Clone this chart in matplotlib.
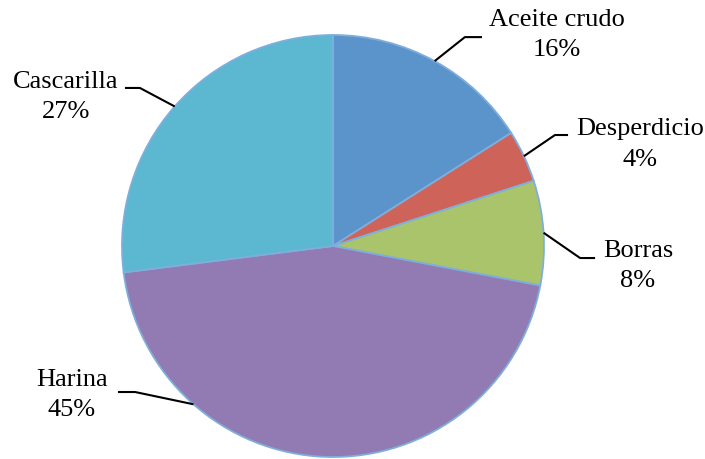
import matplotlib
matplotlib.use("Agg")
import matplotlib.pyplot as plt
import numpy as np

plt.rcParams['font.family'] = ['Liberation Serif', 'DejaVu Serif']

categories = ["Aceite crudo", "Desperdicio", "Borras", "Harina", "Cascarilla"]
values = [16, 4, 8, 45, 27]
pct_labels = ["16%", "4%", "8%", "45%", "27%"]
colors = ["#5B93CB", "#CE6459", "#AAC46C", "#917BB2", "#5BB8D0"]

# label layout (data units, pie radius = 1)
text_pos = [(1.062, 1.00), (1.455, 0.48), (1.445, -0.095), (-1.237, -0.706), (-1.265, 0.706)]
elbows = [(0.625, 0.99), (1.052, 0.526), (1.171, -0.057), (-0.938, -0.692), (-0.915, 0.749)]
ends = [(0.706, 0.99), (1.114, 0.526), (1.242, -0.057), (-1.019, -0.692), (-0.986, 0.749)]
anchor_angle_override = {3: 228.6}

fig = plt.figure(figsize=(7.05, 4.59), dpi=100)
ax = fig.add_axes([0, 0, 1, 1])
wedges, _ = ax.pie(values, colors=colors, startangle=90, counterclock=False, radius=1,
                   wedgeprops=dict(edgecolor="#7FAEDC", linewidth=1.3))
ax.set_xlim(-333/211, 372/211)
ax.set_ylim(-213/211, 246/211)
ax.set_aspect('equal')
ax.axis('off')

for i, w in enumerate(wedges):
    ang = (w.theta1 + w.theta2) / 2
    ang = anchor_angle_override.get(i, ang)
    sx, sy = np.cos(np.radians(ang)), np.sin(np.radians(ang))
    ex, ey = elbows[i]
    fx, fy = ends[i]
    ax.plot([sx, ex, fx], [sy, ey, fy], color="black", lw=1.5, solid_capstyle='butt')
    tx, ty = text_pos[i]
    ax.text(tx, ty, f"{categories[i]}\n{pct_labels[i]}", ha="center", va="center",
            fontsize=19, linespacing=1.5, color="black")

fig.savefig("out.png", dpi=100)
